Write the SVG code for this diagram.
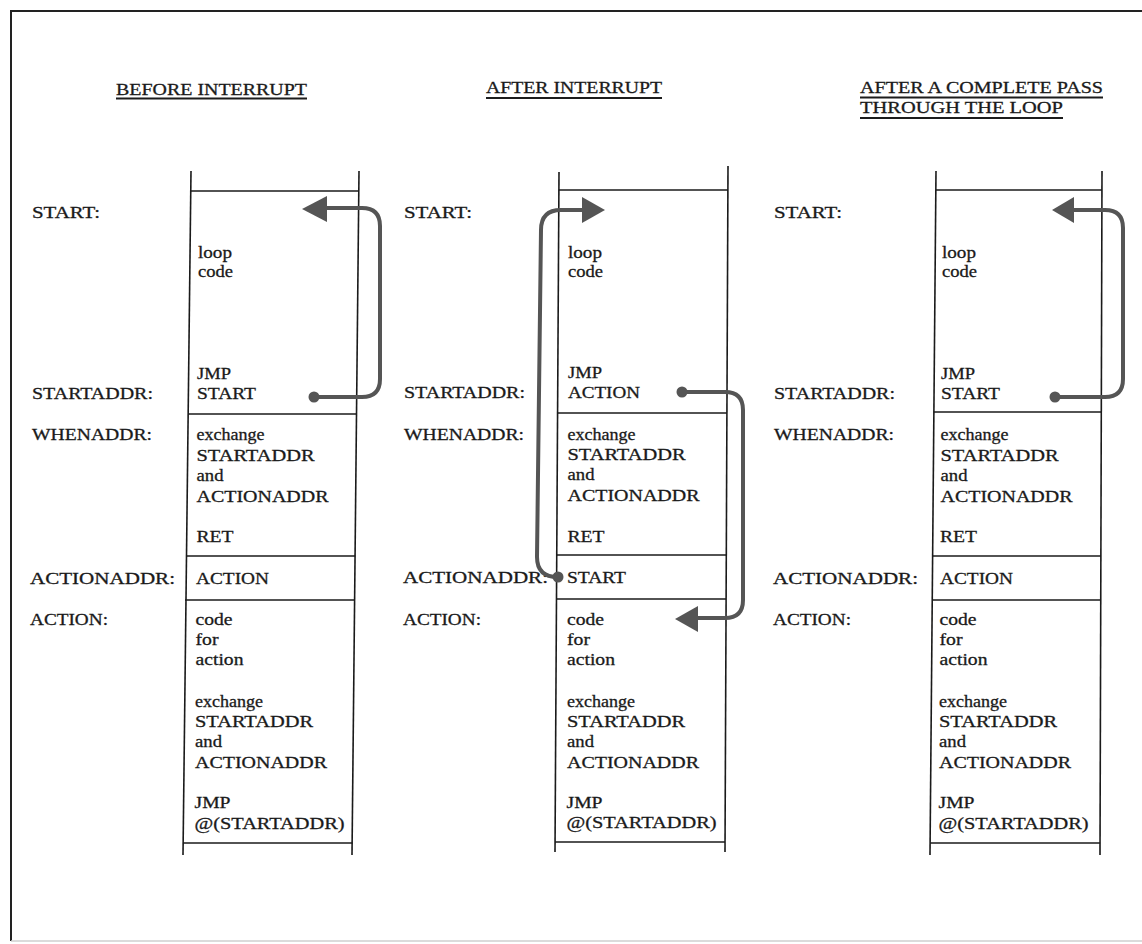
<svg xmlns="http://www.w3.org/2000/svg" width="1142" height="944" viewBox="0 0 1142 944">
  <style>
    .t { font-family: "Liberation Serif", "DejaVu Serif", serif; font-size: 17px; fill: #1a1a1a; stroke: #1a1a1a; stroke-width: 0.3; }
    .h { font-family: "Liberation Serif", "DejaVu Serif", serif; font-size: 17px; fill: #1a1a1a; stroke: #1a1a1a; stroke-width: 0.3; }
    .ul { stroke: #1c1c1c; stroke-width: 2; }
    .box { stroke: #1a1a1a; stroke-width: 1.6; fill: none; }
    .frame { stroke: #222; stroke-width: 2; fill: none; }
    .wire { stroke: #555555; stroke-width: 4; fill: none; stroke-linecap: round; stroke-linejoin: round; }
    .head { fill: #555555; }
    .dot { fill: #555555; }
  </style>

  <rect x="0" y="0" width="1142" height="944" fill="#ffffff"/>

  <!-- outer frame (open on the right) -->
  <g id="frame">
    <path class="frame" d="M1142,11 H11 V941"/>
    <line x1="11" y1="941" x2="1142" y2="941" stroke="#cfcfcf" stroke-width="1.5"/>
  </g>

  <!-- headings -->
  <g id="titles">
    <text class="h" x="116" y="95" textLength="191" lengthAdjust="spacingAndGlyphs">BEFORE INTERRUPT</text>
    <line class="ul" x1="116" y1="98.5" x2="307" y2="98.5"/>
    <text class="h" x="486" y="93" textLength="176" lengthAdjust="spacingAndGlyphs">AFTER INTERRUPT</text>
    <line class="ul" x1="486" y1="98" x2="662" y2="98"/>
    <text class="h" x="860" y="93" textLength="243" lengthAdjust="spacingAndGlyphs">AFTER A COMPLETE PASS</text>
    <line class="ul" x1="860" y1="97.5" x2="1103" y2="97.5"/>
    <text class="h" x="860" y="113" textLength="203" lengthAdjust="spacingAndGlyphs">THROUGH THE LOOP</text>
    <line class="ul" x1="860" y1="118" x2="1063" y2="118"/>
  </g>

  <!-- column 1: before interrupt -->
  <g id="before">
    <g id="before-labels">
      <text class="t" x="32" y="218" textLength="68" lengthAdjust="spacingAndGlyphs">START:</text>
      <text class="t" x="32" y="399" textLength="121" lengthAdjust="spacingAndGlyphs">STARTADDR:</text>
      <text class="t" x="32" y="440" textLength="120" lengthAdjust="spacingAndGlyphs">WHENADDR:</text>
      <text class="t" x="30" y="584" textLength="145" lengthAdjust="spacingAndGlyphs">ACTIONADDR:</text>
      <text class="t" x="30" y="625" textLength="78" lengthAdjust="spacingAndGlyphs">ACTION:</text>
    </g>
    <g id="before-memory">
      <line class="box" x1="191" y1="171" x2="183" y2="855"/>
      <line class="box" x1="359" y1="171" x2="352" y2="855"/>
      <line class="box" x1="190.8" y1="191" x2="358.8" y2="191"/>
      <line class="box" x1="188.2" y1="414" x2="356.5" y2="414"/>
      <line class="box" x1="186.5" y1="556" x2="355.1" y2="556"/>
      <line class="box" x1="185" y1="600" x2="354.6" y2="600"/>
      <line class="box" x1="183.1" y1="843" x2="352.2" y2="843"/>
    </g>
    <g id="before-loop">
      <text class="t" x="198" y="258" textLength="34" lengthAdjust="spacingAndGlyphs">loop</text>
      <text class="t" x="198" y="277" textLength="35" lengthAdjust="spacingAndGlyphs">code</text>
      <text class="t" x="197" y="379" textLength="34" lengthAdjust="spacingAndGlyphs">JMP</text>
      <text class="t" x="197" y="399" textLength="59" lengthAdjust="spacingAndGlyphs">START</text>
    </g>
    <g id="before-when">
      <text class="t" x="196.5" y="440" textLength="68" lengthAdjust="spacingAndGlyphs">exchange</text>
      <text class="t" x="196.5" y="461" textLength="118" lengthAdjust="spacingAndGlyphs">STARTADDR</text>
      <text class="t" x="196.5" y="481" textLength="27" lengthAdjust="spacingAndGlyphs">and</text>
      <text class="t" x="196.5" y="502" textLength="132" lengthAdjust="spacingAndGlyphs">ACTIONADDR</text>
      <text class="t" x="196.5" y="542" textLength="37" lengthAdjust="spacingAndGlyphs">RET</text>
    </g>
    <g id="before-actionaddr">
      <text class="t" x="196" y="584" textLength="73" lengthAdjust="spacingAndGlyphs">ACTION</text>
    </g>
    <g id="before-action">
      <text class="t" x="195.5" y="625" textLength="37" lengthAdjust="spacingAndGlyphs">code</text>
      <text class="t" x="195.5" y="645" textLength="23" lengthAdjust="spacingAndGlyphs">for</text>
      <text class="t" x="195.5" y="665" textLength="48" lengthAdjust="spacingAndGlyphs">action</text>
      <text class="t" x="195" y="707" textLength="68" lengthAdjust="spacingAndGlyphs">exchange</text>
      <text class="t" x="195" y="727" textLength="118" lengthAdjust="spacingAndGlyphs">STARTADDR</text>
      <text class="t" x="195" y="747" textLength="27" lengthAdjust="spacingAndGlyphs">and</text>
      <text class="t" x="195" y="768" textLength="132" lengthAdjust="spacingAndGlyphs">ACTIONADDR</text>
      <text class="t" x="194.5" y="808" textLength="36" lengthAdjust="spacingAndGlyphs">JMP</text>
      <text class="t" x="194.5" y="829" textLength="150" lengthAdjust="spacingAndGlyphs">@(STARTADDR)</text>
    </g>
  </g>

  <!-- column 2: after interrupt -->
  <g id="after">
    <g id="after-labels">
      <text class="t" x="404" y="218" textLength="68" lengthAdjust="spacingAndGlyphs">START:</text>
      <text class="t" x="404" y="398" textLength="121" lengthAdjust="spacingAndGlyphs">STARTADDR:</text>
      <text class="t" x="404" y="440" textLength="120" lengthAdjust="spacingAndGlyphs">WHENADDR:</text>
      <text class="t" x="403" y="583" textLength="145" lengthAdjust="spacingAndGlyphs">ACTIONADDR:</text>
      <text class="t" x="403" y="625" textLength="78" lengthAdjust="spacingAndGlyphs">ACTION:</text>
    </g>
    <g id="after-memory">
      <line class="box" x1="559" y1="172" x2="555" y2="852"/>
      <line class="box" x1="728" y1="166" x2="725" y2="852"/>
      <line class="box" x1="558.9" y1="190" x2="727.9" y2="190"/>
      <line class="box" x1="557.6" y1="413" x2="726.9" y2="413"/>
      <line class="box" x1="556.7" y1="555" x2="726.3" y2="555"/>
      <line class="box" x1="556.5" y1="599" x2="726.1" y2="599"/>
      <line class="box" x1="555.1" y1="842" x2="725" y2="842"/>
    </g>
    <g id="after-loop">
      <text class="t" x="568" y="258" textLength="34" lengthAdjust="spacingAndGlyphs">loop</text>
      <text class="t" x="568" y="277" textLength="35" lengthAdjust="spacingAndGlyphs">code</text>
      <text class="t" x="568" y="378" textLength="34" lengthAdjust="spacingAndGlyphs">JMP</text>
      <text class="t" x="568" y="398" textLength="72" lengthAdjust="spacingAndGlyphs">ACTION</text>
    </g>
    <g id="after-when">
      <text class="t" x="567.5" y="440" textLength="68" lengthAdjust="spacingAndGlyphs">exchange</text>
      <text class="t" x="567.5" y="460" textLength="118" lengthAdjust="spacingAndGlyphs">STARTADDR</text>
      <text class="t" x="567.5" y="480" textLength="27" lengthAdjust="spacingAndGlyphs">and</text>
      <text class="t" x="567.5" y="501" textLength="132" lengthAdjust="spacingAndGlyphs">ACTIONADDR</text>
      <text class="t" x="567.5" y="542" textLength="37" lengthAdjust="spacingAndGlyphs">RET</text>
    </g>
    <g id="after-actionaddr">
      <text class="t" x="567" y="583" textLength="59" lengthAdjust="spacingAndGlyphs">START</text>
    </g>
    <g id="after-action">
      <text class="t" x="567" y="625" textLength="37" lengthAdjust="spacingAndGlyphs">code</text>
      <text class="t" x="567" y="645" textLength="23" lengthAdjust="spacingAndGlyphs">for</text>
      <text class="t" x="567" y="665" textLength="48" lengthAdjust="spacingAndGlyphs">action</text>
      <text class="t" x="567" y="707" textLength="68" lengthAdjust="spacingAndGlyphs">exchange</text>
      <text class="t" x="567" y="727" textLength="118" lengthAdjust="spacingAndGlyphs">STARTADDR</text>
      <text class="t" x="567" y="747" textLength="27" lengthAdjust="spacingAndGlyphs">and</text>
      <text class="t" x="567" y="768" textLength="132" lengthAdjust="spacingAndGlyphs">ACTIONADDR</text>
      <text class="t" x="566.5" y="808" textLength="36" lengthAdjust="spacingAndGlyphs">JMP</text>
      <text class="t" x="566.5" y="828" textLength="150" lengthAdjust="spacingAndGlyphs">@(STARTADDR)</text>
    </g>
  </g>

  <!-- column 3: after a complete pass through the loop -->
  <g id="after-pass">
    <g id="pass-labels">
      <text class="t" x="774" y="218" textLength="68" lengthAdjust="spacingAndGlyphs">START:</text>
      <text class="t" x="774" y="399" textLength="121" lengthAdjust="spacingAndGlyphs">STARTADDR:</text>
      <text class="t" x="774" y="440" textLength="120" lengthAdjust="spacingAndGlyphs">WHENADDR:</text>
      <text class="t" x="773" y="584" textLength="145" lengthAdjust="spacingAndGlyphs">ACTIONADDR:</text>
      <text class="t" x="773" y="625" textLength="78" lengthAdjust="spacingAndGlyphs">ACTION:</text>
    </g>
    <g id="pass-memory">
      <line class="box" x1="936" y1="171" x2="930" y2="855"/>
      <line class="box" x1="1102" y1="171" x2="1100" y2="855"/>
      <line class="box" x1="935.8" y1="190" x2="1101.9" y2="190"/>
      <line class="box" x1="933.9" y1="412" x2="1101.3" y2="412"/>
      <line class="box" x1="932.6" y1="556" x2="1100.9" y2="556"/>
      <line class="box" x1="932.2" y1="600" x2="1100.7" y2="600"/>
      <line class="box" x1="930.1" y1="843" x2="1100.1" y2="843"/>
    </g>
    <g id="pass-loop">
      <text class="t" x="942" y="258" textLength="34" lengthAdjust="spacingAndGlyphs">loop</text>
      <text class="t" x="942" y="277" textLength="35" lengthAdjust="spacingAndGlyphs">code</text>
      <text class="t" x="941" y="379" textLength="34" lengthAdjust="spacingAndGlyphs">JMP</text>
      <text class="t" x="941" y="399" textLength="59" lengthAdjust="spacingAndGlyphs">START</text>
    </g>
    <g id="pass-when">
      <text class="t" x="940.5" y="440" textLength="68" lengthAdjust="spacingAndGlyphs">exchange</text>
      <text class="t" x="940.5" y="461" textLength="118" lengthAdjust="spacingAndGlyphs">STARTADDR</text>
      <text class="t" x="940.5" y="481" textLength="27" lengthAdjust="spacingAndGlyphs">and</text>
      <text class="t" x="940.5" y="502" textLength="132" lengthAdjust="spacingAndGlyphs">ACTIONADDR</text>
      <text class="t" x="940" y="542" textLength="37" lengthAdjust="spacingAndGlyphs">RET</text>
    </g>
    <g id="pass-actionaddr">
      <text class="t" x="940" y="584" textLength="73" lengthAdjust="spacingAndGlyphs">ACTION</text>
    </g>
    <g id="pass-action">
      <text class="t" x="939.5" y="625" textLength="37" lengthAdjust="spacingAndGlyphs">code</text>
      <text class="t" x="939.5" y="645" textLength="23" lengthAdjust="spacingAndGlyphs">for</text>
      <text class="t" x="939.5" y="665" textLength="48" lengthAdjust="spacingAndGlyphs">action</text>
      <text class="t" x="939" y="707" textLength="68" lengthAdjust="spacingAndGlyphs">exchange</text>
      <text class="t" x="939" y="727" textLength="118" lengthAdjust="spacingAndGlyphs">STARTADDR</text>
      <text class="t" x="939" y="747" textLength="27" lengthAdjust="spacingAndGlyphs">and</text>
      <text class="t" x="939" y="768" textLength="132" lengthAdjust="spacingAndGlyphs">ACTIONADDR</text>
      <text class="t" x="938.5" y="808" textLength="36" lengthAdjust="spacingAndGlyphs">JMP</text>
      <text class="t" x="938.5" y="829" textLength="150" lengthAdjust="spacingAndGlyphs">@(STARTADDR)</text>
    </g>
  </g>

  <!-- control-flow connectors -->
  <g id="connectors">
    <!-- before: JMP START back to START -->
    <path class="wire" d="M314,397 H362 Q380,397 380,379 V226 Q380,208 362,208 H322"/>
    <polygon class="head" points="302,209 327,196 327,222"/>
    <circle class="dot" cx="314" cy="397" r="5.5"/>

    <!-- after: ACTIONADDR now holds START -->
    <path class="wire" d="M558,577 Q537,577 537,557 L541,230 Q541,210 561,210 H586"/>
    <polygon class="head" points="605,210 582,197 582,223"/>
    <circle class="dot" cx="558" cy="577" r="5.5"/>

    <!-- after: JMP ACTION into the action code -->
    <path class="wire" d="M682,392 H725 Q743,392 743,410 V600 Q743,618 725,618 H694"/>
    <polygon class="head" points="675,619 698,606 698,632"/>
    <circle class="dot" cx="682" cy="392" r="5.5"/>

    <!-- after a full pass: JMP START back to START -->
    <path class="wire" d="M1055,397 H1105 Q1123,397 1123,379 V228 Q1123,210 1105,210 H1070"/>
    <polygon class="head" points="1052,210 1074,197 1074,223"/>
    <circle class="dot" cx="1055" cy="397" r="5.5"/>
  </g>
</svg>
